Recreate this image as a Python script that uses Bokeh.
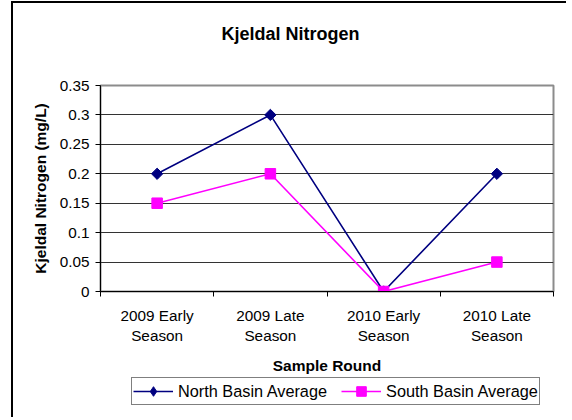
from bokeh.plotting import figure
from bokeh.layouts import column
from bokeh.models import Range1d, FixedTicker, Legend, LegendItem, ColumnDataSource
from bokeh.embed import file_html
from bokeh.resources import INLINE
import math

# ---- data ----
categories = ["2009 Early\nSeason", "2009 Late\nSeason", "2010 Early\nSeason", "2010 Late\nSeason"]
north_basin = [0.2, 0.3, 0.0, 0.2]
south_basin = [0.15, 0.2, 0.0, 0.05]
y_ticks = [0, 0.05, 0.1, 0.15, 0.2, 0.25, 0.3, 0.35]
y_tick_labels = ["0", "0.05", "0.1", "0.15", "0.2", "0.25", "0.3", "0.35"]
series_names = ["North Basin Average", "South Basin Average"]

FONT = "Liberation Sans"
NAVY = "#000080"
MAGENTA = "#FF00FF"

xpos = [i + 0.5 for i in range(len(categories))]

p = figure(width=553, height=373, output_backend="svg", toolbar_location=None,
           x_range=Range1d(0, len(categories)), y_range=Range1d(0, 0.35),
           min_border_left=87, min_border_right=13, min_border_top=82, min_border_bottom=84)

p.background_fill_color = "white"
p.border_fill_color = "white"
p.outline_line_color = "#8c8c8c"
p.outline_line_width = 2

# title (trailing blank lines lift it higher above the plot area)
p.title.text = "Kjeldal Nitrogen\n\n"
p.title.text_font = FONT
p.title.text_font_size = "18px"
p.title.text_font_style = "bold"
p.title.text_color = "black"
p.title.align = "left"
p.title.offset = 121
p.title.standoff = 4

# x axis
xa = p.xaxis[0]
xa.ticker = FixedTicker(ticks=xpos, minor_ticks=list(range(len(categories) + 1)))
xa.major_label_overrides = {x: c for x, c in zip(xpos, categories)}
xa.major_tick_out = 0
xa.major_tick_in = 0
xa.minor_tick_out = 5
xa.minor_tick_in = 0
xa.minor_tick_line_color = "black"
xa.axis_line_color = "black"
xa.axis_line_width = 1
xa.major_label_text_font = FONT
xa.major_label_text_font_size = "15.3px"
xa.major_label_text_color = "black"
xa.major_label_standoff = 10
xa.axis_label = "Sample Round"
xa.axis_label_text_font = FONT
xa.axis_label_text_font_size = "15.5px"
xa.axis_label_text_font_style = "bold"
xa.axis_label_text_color = "black"
xa.axis_label_standoff = 10

# y axis
ya = p.yaxis[0]
ya.ticker = FixedTicker(ticks=y_ticks, minor_ticks=[])
ya.major_label_overrides = {t: l for t, l in zip(y_ticks, y_tick_labels)}
ya.major_tick_out = 5
ya.major_tick_in = 0
ya.major_tick_line_color = "black"
ya.axis_line_color = "black"
ya.major_label_text_font = FONT
ya.major_label_text_font_size = "15.3px"
ya.major_label_text_color = "black"
ya.major_label_standoff = 6
ya.axis_label = "Kjeldal Nitrogen (mg/L)"
ya.axis_label_text_font = FONT
ya.axis_label_text_font_size = "15.5px"
ya.axis_label_text_font_style = "bold"
ya.axis_label_text_color = "black"
ya.axis_label_standoff = 8

p.xgrid.grid_line_color = None
p.ygrid.ticker = FixedTicker(ticks=y_ticks)
p.ygrid.grid_line_color = "#333333"
p.ygrid.grid_line_width = 1

src = ColumnDataSource(dict(x=xpos, north=north_basin, south=south_basin))

p.line("x", "north", source=src, line_color=NAVY, line_width=1.6)
p.scatter("x", "north", source=src, marker="square", angle=math.pi / 4, size=8,
          fill_color=NAVY, line_color=NAVY)
p.line("x", "south", source=src, line_color=MAGENTA, line_width=1.6)
p.scatter("x", "south", source=src, marker="square", size=10.5,
          fill_color=MAGENTA, line_color=MAGENTA)

# ---- legend strip below the chart (series drawn outside its visible range) ----
lg = figure(width=553, height=41, output_backend="svg", toolbar_location=None,
            x_range=Range1d(0, len(categories)), y_range=Range1d(10, 11),
            x_axis_location=None, y_axis_location=None, min_border=0)
lg.outline_line_color = None
lg.grid.visible = False
lg.background_fill_color = "white"
lg.border_fill_color = "white"

gl1 = lg.line("x", "north", source=src, line_color=NAVY, line_width=1.6)
gm1 = lg.scatter("x", "north", source=src, marker="diamond", fill_color=NAVY, line_color=NAVY)
gl2 = lg.line("x", "south", source=src, line_color=MAGENTA, line_width=1.6)
gm2 = lg.scatter("x", "south", source=src, marker="square", fill_color=MAGENTA, line_color=MAGENTA)

legend = Legend(items=[LegendItem(label=series_names[0], renderers=[gl1, gm1]),
                       LegendItem(label=series_names[1], renderers=[gl2, gm2])],
                orientation="horizontal", location=(31, 12))
legend.label_text_font = FONT
legend.label_text_font_size = "16.3px"
legend.label_text_color = "black"
legend.glyph_width = 40
legend.glyph_height = 24
legend.label_standoff = 5
legend.spacing = 14
legend.padding = 1
legend.margin = 0
legend.border_line_color = "black"
legend.border_line_width = 1
legend.background_fill_color = "white"
legend.background_fill_alpha = 1
lg.add_layout(legend, "center")

layout = column(p, lg, spacing=0,
                styles={"margin-left": "11px", "margin-top": "1px",
                        "border-left": "2px solid black", "border-top": "2px solid black"})

open("out.html", "w").write(file_html(layout, INLINE))
